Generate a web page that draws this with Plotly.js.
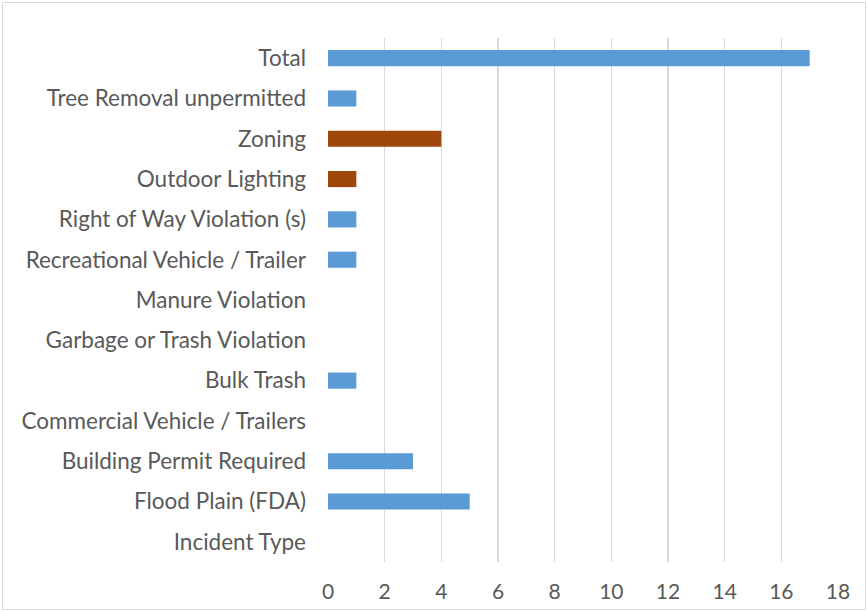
<!DOCTYPE html>
<html>
<head>
<meta charset="utf-8">
<script src="https://cdn.plot.ly/plotly-3.0.1.min.js"></script>
<style>
html,body{margin:0;padding:0;background:#fff;}
#wrap{position:relative;width:867px;height:612px;}
#chart{width:867px;height:612px;}
#frame{position:absolute;left:2px;top:2px;width:862px;height:606px;border:1px solid #d9d9d9;pointer-events:none;}
</style>
</head>
<body>
<div id="wrap"><div id="chart"></div><div id="frame"></div></div>
<script>
const categories = [
  "Incident Type",
  "Flood Plain (FDA)",
  "Building Permit Required",
  "Commercial Vehicle / Trailers",
  "Bulk Trash",
  "Garbage or Trash Violation",
  "Manure Violation",
  "Recreational Vehicle / Trailer",
  "Right of Way Violation (s)",
  "Outdoor Lighting",
  "Zoning",
  "Tree Removal unpermitted",
  "Total"
];
const counts = [0, 5, 3, 0, 1, 0, 0, 1, 1, 1, 4, 1, 17];
const highlighted = ["Outdoor Lighting", "Zoning"];
const xTicks = [0, 2, 4, 6, 8, 10, 12, 14, 16, 18];

const BLUE = "#5B9BD5", BROWN = "#9E480E";
const colors = categories.map(c => highlighted.includes(c) ? BROWN : BLUE);

const trace = {
  type: "bar",
  orientation: "h",
  y: categories,
  x: counts,
  marker: {color: colors},
  hoverinfo: "x+y"
};

const layout = {
  width: 867,
  height: 612,
  margin: {l: 328, r: 28.5, t: 38, b: 50},
  paper_bgcolor: "#fff",
  plot_bgcolor: "#fff",
  showlegend: false,
  bargap: 0.6,
  font: {family: "Lato, sans-serif", size: 22.5, color: "#595959"},
  xaxis: {
    range: [0, 18],
    tickvals: xTicks,
    ticktext: xTicks.map(String),
    showgrid: true,
    gridcolor: "#d9d9d9",
    gridwidth: 1.5,
    zeroline: false,
    showline: false,
    ticks: "",
    ticklabelstandoff: 15,
    tickfont: {size: 21, color: "#595959"}
  },
  yaxis: {
    type: "category",
    categoryorder: "array",
    categoryarray: categories,
    showgrid: false,
    zeroline: false,
    showline: false,
    ticks: "",
    ticklabelstandoff: 21,
    tickfont: {size: 22.5, color: "#595959"}
  }
};

Plotly.newPlot("chart", [trace], layout, {displayModeBar: false, staticPlot: true});
</script>
</body>
</html>
